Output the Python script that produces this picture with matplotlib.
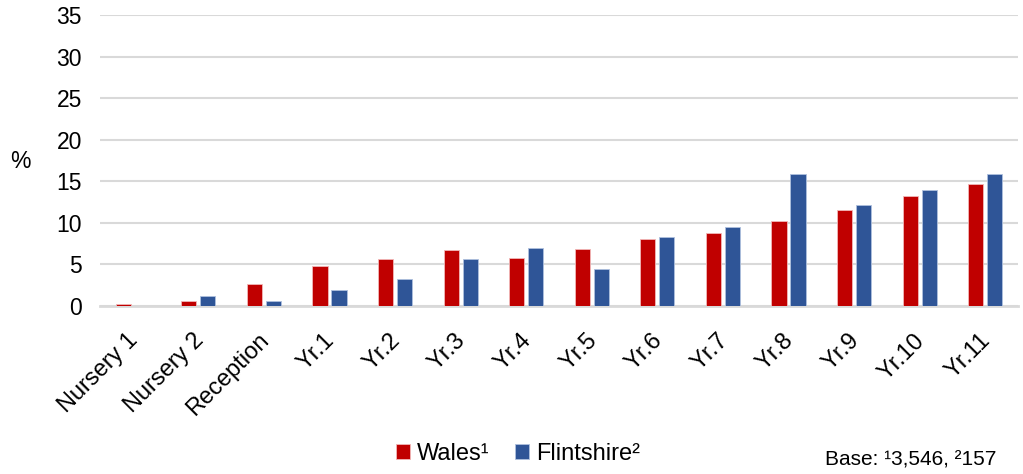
import matplotlib.pyplot as plt
import matplotlib.transforms as mtransforms
import numpy as np

plt.rcParams['font.family'] = ['Liberation Sans', 'DejaVu Sans']

categories = ['Nursery 1', 'Nursery 2', 'Reception', 'Yr.1', 'Yr.2', 'Yr.3', 'Yr.4',
              'Yr.5', 'Yr.6', 'Yr.7', 'Yr.8', 'Yr.9', 'Yr.10', 'Yr.11']
wales = [0.2, 0.65, 2.6, 4.8, 5.6, 6.7, 5.8, 6.9, 8.1, 8.8, 10.2, 11.6, 13.2, 14.7]
flintshire = [0.0, 1.25, 0.6, 1.9, 3.2, 5.7, 7.0, 4.4, 8.25, 9.5, 15.9, 12.1, 14.0, 15.9]

fig = plt.figure(figsize=(10.23, 4.74), dpi=100)
ax = fig.add_axes([100 / 1023, 1 - 306 / 474, 918 / 1023, 291 / 474])

x = np.arange(len(categories))
w = 0.23
off = 0.145
ax.bar(x - off, wales, w, color='#C00000', edgecolor='#F2B8B8', linewidth=0.6, label='Wales¹', zorder=3)
ax.bar(x + off, flintshire, w, color='#2F5597', edgecolor='#AFC0DE', linewidth=0.6, label='Flintshire²', zorder=3)

ax.set_xlim(-0.5, len(categories) - 0.5)
ax.set_ylim(0, 35)
ax.set_yticks(range(0, 36, 5))
ax.yaxis.grid(True, color='#D9D9D9', linewidth=1.5, zorder=0)
for s in ['top', 'right', 'left']:
    ax.spines[s].set_visible(False)
ax.spines['bottom'].set_color('#D9D9D9')
ax.spines['bottom'].set_linewidth(2)
ax.tick_params(axis='both', length=0, colors='black')
ax.tick_params(axis='y', pad=13, labelsize=16.5)
ax.set_xticks(x)
ax.set_xticklabels(categories, rotation=45, ha='right', rotation_mode='anchor', fontsize=17)
ax.tick_params(axis='x', pad=9)

# nudge the rotated labels a little left and down, like the original
shift = mtransforms.ScaledTranslation(-6 / 100, -11 / 100, fig.dpi_scale_trans)
for lab in ax.get_xticklabels():
    lab.set_transform(lab.get_transform() + shift)

fig.text(10 / 1023, 1 - 161 / 474, '%', fontsize=16.5, ha='left', va='center')

fig.legend(loc='center', bbox_to_anchor=(518 / 1023, 1 - 454 / 474), ncol=2, frameon=False,
           fontsize=17, handlelength=0.6, handleheight=0.6, handletextpad=0.3, columnspacing=1.1)
fig.text(996 / 1023, 1 - 460 / 474, 'Base: ¹3,546, ²157', fontsize=15, ha='right', va='center')

plt.savefig('out.png', dpi=100)
plt.close()
